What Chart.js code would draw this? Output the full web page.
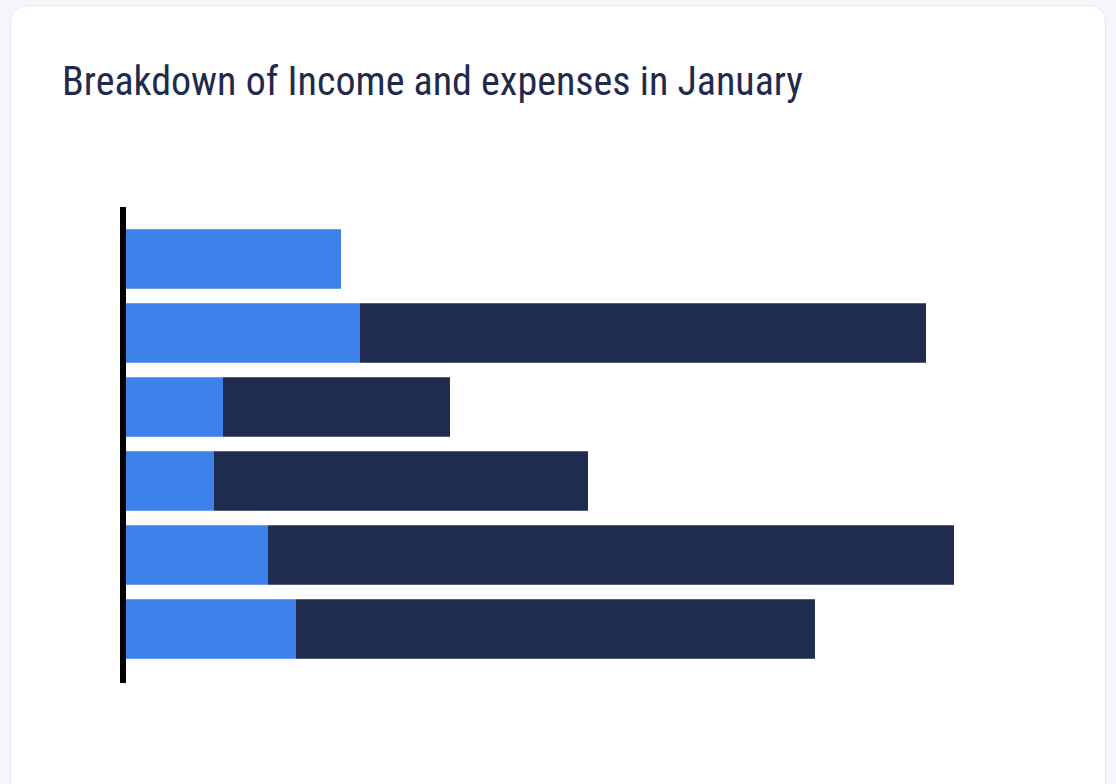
<!DOCTYPE html>
<html>
<head>
<meta charset="utf-8">
<script src="https://cdn.jsdelivr.net/npm/chart.js@4"></script>
<style>
  html, body { margin: 0; padding: 0; }
  body { width: 1116px; height: 784px; background: #f5f6fb; position: relative; overflow: hidden; }
  .card {
    position: absolute; left: 10px; top: 5px; width: 1094px; height: 820px;
    background: #fff; border: 1px solid #e8e9f0; border-radius: 16px;
  }
  .title {
    position: absolute; left: 62px; top: 58px; margin: 0;
    font-family: Roboto, sans-serif; font-weight: 400; font-size: 40px;
    color: #1f2a4d; white-space: nowrap;
    font-stretch: condensed; transform-origin: left top;
  }
  #chart { position: absolute; left: 0; top: 0; }
</style>
</head>
<body>
<div class="card"></div>
<h1 class="title" id="title">Breakdown of Income and expenses in January</h1>
<canvas id="chart" width="1116" height="784"></canvas>
<script>
// rows of the chart (labels are not shown in the picture)
var categories = ["Item 1", "Item 2", "Item 3", "Item 4", "Item 5", "Item 6"];
var incomeValues = [1080, 1170, 485, 440, 710, 850];
var expenseValues = [0, 2835, 1140, 1875, 3435, 2600];
var xMin = 0;
var xMax = 4500;

// thick black line along the left of the bars
var leftAxisLine = {
  id: 'leftAxisLine',
  afterDatasetsDraw: function (chart) {
    var ctx = chart.ctx;
    var area = chart.chartArea;
    var x0 = chart.scales.x.getPixelForValue(0) - 3;
    ctx.save();
    ctx.strokeStyle = '#000';
    ctx.lineWidth = 6;
    ctx.beginPath();
    ctx.moveTo(x0, area.top - 15);
    ctx.lineTo(x0, area.bottom + 17);
    ctx.stroke();
    ctx.restore();
  }
};

var chartEl = document.getElementById("chart");
var chartConfig = {
  type: 'bar',
  data: {
    labels: categories,
    datasets: [{
      label: 'Income',
      data: incomeValues,
      backgroundColor: '#3c80ea',
      borderColor: 'rgba(255,255,255,0.3)',
      borderWidth: function (c) {
        // no light seam where the expense bar continues
        var r = expenseValues[c.dataIndex] > 0 ? 0 : 1;
        return { top: 1, bottom: 1, left: 0, right: r };
      },
      borderSkipped: false,
      categoryPercentage: 1,
      barPercentage: 0.83
    }, {
      label: 'Expenses',
      data: expenseValues,
      backgroundColor: '#1f2c50',
      borderColor: 'rgba(255,255,255,0.3)',
      borderWidth: 1,
      borderSkipped: 'start',
      categoryPercentage: 1,
      barPercentage: 0.83
    }]
  },
  options: {
    indexAxis: 'y',
    responsive: false,
    animation: false,
    layout: {
      padding: { left: 126, right: 90, top: 222, bottom: 118 }
    },
    scales: {
      x: { stacked: true, display: false, min: xMin, max: xMax },
      y: { stacked: true, display: false }
    },
    plugins: {
      legend: { display: false },
      tooltip: { enabled: false }
    }
  },
  plugins: [leftAxisLine]
};
var chartObj = new Chart(chartEl, chartConfig);

// squeeze title to the reference width if it comes out too wide
var titleEl = document.getElementById("title");
var w = titleEl.getBoundingClientRect().width;
if (w > 745) {
  titleEl.style.transform = 'scaleX(' + (740 / w) + ')';
}
</script>
</body>
</html>
